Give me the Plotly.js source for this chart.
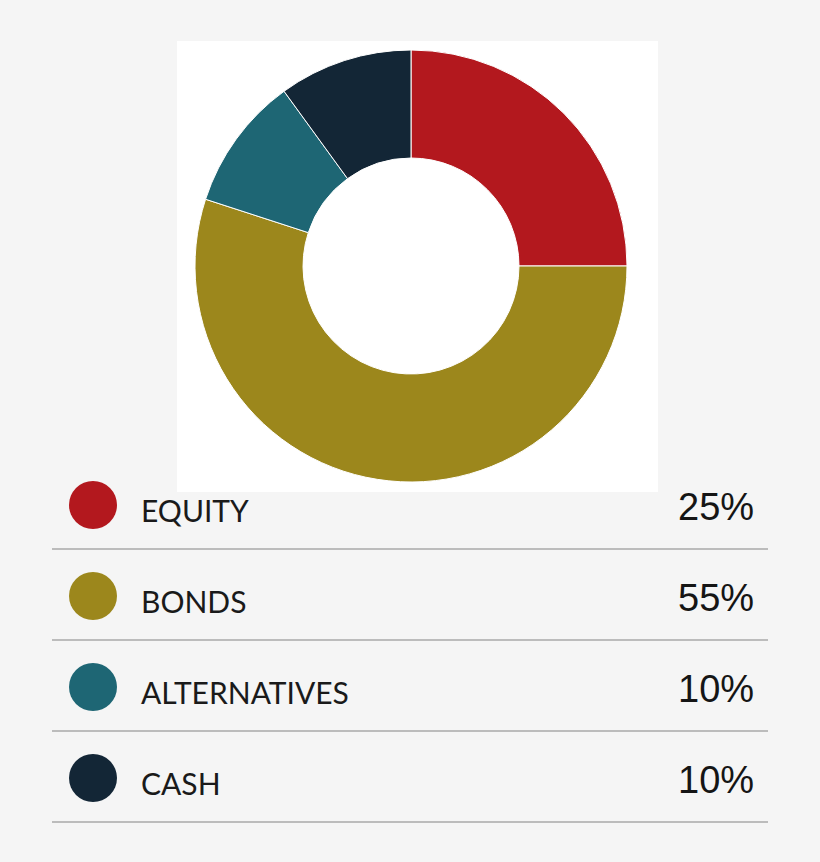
<!DOCTYPE html>
<html>
<head>
<meta charset="utf-8">
<script src="https://cdn.plot.ly/plotly-3.0.1.min.js"></script>
<style>
  html, body { margin: 0; padding: 0; background: #f5f5f5; }
  #chart { width: 820px; height: 862px; }
</style>
</head>
<body>
<div id="chart"></div>
<script>
// allocation data
const categories = ["EQUITY", "BONDS", "ALTERNATIVES", "CASH"];
const shares = [25, 55, 10, 10];
const colors = ["#b3181e", "#9c871c", "#1e6674", "#132636"];

// page is 820x862, everything below is laid out in pixels then turned into paper fractions
const W = 820, H = 862;
const px = (x) => x / W;
const py = (y) => 1 - y / H;

// donut
const cx = 411, cy = 266, r = 216;

// legend rows: first row at 505px, 91px apart
const rowTop = 460, rowBottom = 845, rowY0 = 505, rowStep = 91;
const yMin = -(rowY0 - rowTop) / rowStep;
const yMax = yMin + (rowBottom - rowTop) / rowStep;

const donut = {
  type: "pie",
  labels: categories,
  values: shares,
  sort: false,
  direction: "clockwise",
  rotation: 0,
  hole: 0.5,
  textinfo: "none",
  hoverinfo: "label+percent",
  marker: { colors: colors, line: { color: "#ffffff", width: 1 } },
  domain: { x: [px(cx - r), px(cx + r)], y: [py(cy + r), py(cy - r)] },
  showlegend: false
};

const dots = {
  type: "scatter",
  mode: "markers",
  x: categories.map(() => 93),
  y: categories,
  marker: { size: 48, color: colors, line: { width: 0 } },
  hoverinfo: "skip",
  showlegend: false
};

const annotations = [];
categories.forEach((c, i) => {
  annotations.push({
    x: 139, y: c, xref: "x", yref: "y",
    text: c, showarrow: false,
    xanchor: "left", yanchor: "middle", yshift: -5,
    font: { family: "Lato", size: 30, color: "#1a1a1a" }
  });
  annotations.push({
    x: 756, y: c, xref: "x", yref: "y",
    text: shares[i] + "%", showarrow: false,
    xanchor: "right", yanchor: "middle", yshift: -2,
    font: { family: "Liberation Sans", size: 38, color: "#151515" }
  });
});

const shapes = [{
  type: "rect", xref: "paper", yref: "paper", layer: "below",
  x0: px(177), x1: px(658), y0: py(492), y1: py(41),
  fillcolor: "#ffffff", line: { width: 0 }
}];
categories.forEach((c, i) => {
  shapes.push({
    type: "line", xref: "x", yref: "y",
    x0: 52, x1: 768, y0: i + 44 / rowStep, y1: i + 44 / rowStep,
    line: { color: "#a8a8a8", width: 1.5 }
  });
});

const layout = {
  width: W, height: H,
  margin: { l: 0, r: 0, t: 0, b: 0 },
  paper_bgcolor: "#f5f5f5",
  plot_bgcolor: "rgba(0,0,0,0)",
  xaxis: {
    range: [0, W], domain: [0, 1],
    showgrid: false, zeroline: false, showticklabels: false, showline: false,
    fixedrange: true
  },
  yaxis: {
    type: "category", categoryarray: categories, categoryorder: "array",
    range: [yMax, yMin], domain: [py(rowBottom), py(rowTop)],
    showgrid: false, zeroline: false, showticklabels: false, showline: false,
    fixedrange: true
  },
  shapes: shapes,
  annotations: annotations
};

Plotly.newPlot("chart", [donut, dots], layout, { displayModeBar: false, staticPlot: true });
</script>
</body>
</html>
